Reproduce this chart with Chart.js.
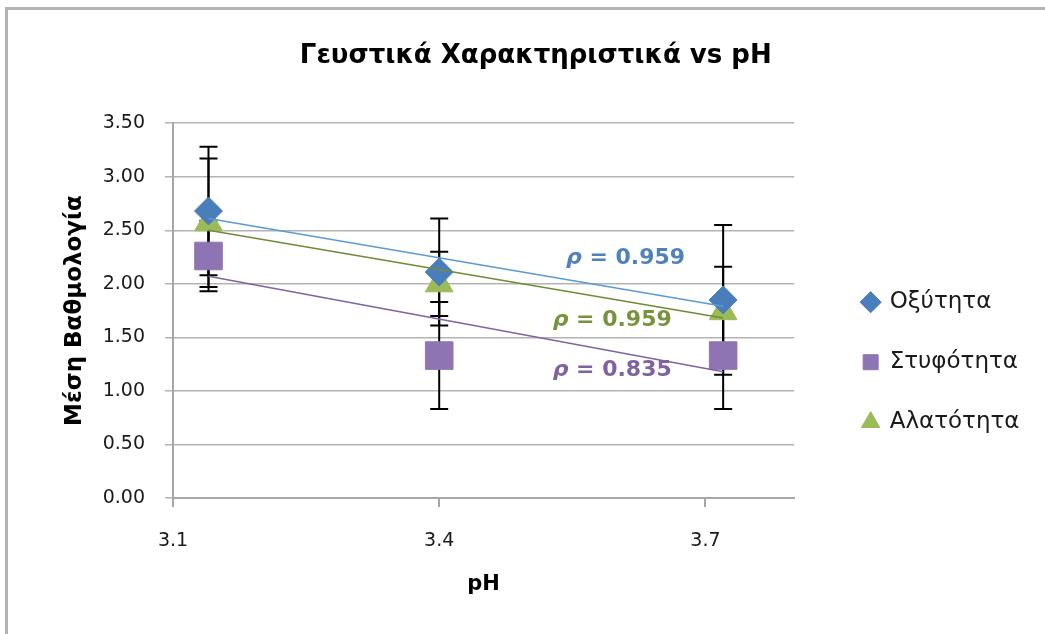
<!DOCTYPE html>
<html lang="el">
<head>
<meta charset="utf-8">
<title>Γευστικά Χαρακτηριστικά vs pH</title>
<script src="https://cdn.jsdelivr.net/npm/chart.js@4.4.1/dist/chart.umd.min.js"></script>
<style>
  html, body { margin: 0; padding: 0; background: #fff; overflow: hidden; }
  #frame { position: absolute; left: 5px; top: 7px; width: 1100px; height: 700px; border: 3px solid #b3b3b3; }
  #chart { position: absolute; left: 0; top: 0; }
</style>
</head>
<body>
<div id="frame"></div>
<canvas id="chart" width="1045" height="634"></canvas>
<script>
// pH of the three samples
const phValues = [3.14, 3.40, 3.72];
const seriesNames = ['Οξύτητα', 'Στυφότητα', 'Αλατότητα'];

// mean scores
const oxytita = [2.68, 2.11, 1.85];
const styfotita = [2.26, 1.33, 1.33];
const alatotita = [2.57, 2.00, 1.74];

// error bar half-widths
const oxytitaErr = [0.60, 0.50, 0.70];
const styfotitaErr = [0.33, 0.50, 0.50];
const alatotitaErr = [0.60, 0.30, 0.42];

// linear trend lines (start / end)
const trendX = [3.14, 3.72];
const oxytitaTrend = [2.61, 1.79];
const styfotitaTrend = [2.07, 1.18];
const alatotitaTrend = [2.50, 1.68];

// correlation labels
const rhoValues = [0.959, 0.835, 0.959];

const xTicks = [3.1, 3.4, 3.7];

const FONT = "'DejaVu Sans', sans-serif";
Chart.defaults.font.family = FONT;
Chart.defaults.color = '#1a1a1a';

const toPoints = (xs, ys) => xs.map((x, i) => ({ x: x, y: ys[i] }));

const errorBars = {
    id: 'errorBars',
    beforeDatasetsDraw(chart) {
        const xs = chart.scales.x, ys = chart.scales.y, ctx = chart.ctx;
        const sets = [[oxytita, oxytitaErr], [styfotita, styfotitaErr], [alatotita, alatotitaErr]];
        ctx.save();
        ctx.strokeStyle = '#000';
        ctx.lineWidth = 2;
        sets.forEach(([vals, errs]) => {
            vals.forEach((v, j) => {
                const px = xs.getPixelForValue(phValues[j]);
                const top = ys.getPixelForValue(v + errs[j]);
                const bot = ys.getPixelForValue(v - errs[j]);
                ctx.beginPath();
                ctx.moveTo(px, top); ctx.lineTo(px, bot);
                ctx.moveTo(px - 9, top); ctx.lineTo(px + 9, top);
                ctx.moveTo(px - 9, bot); ctx.lineTo(px + 9, bot);
                ctx.stroke();
            });
        });
        ctx.restore();
    }
};

// rho labels next to the trend lines
const rhoLabels = {
    id: 'rhoLabels',
    afterDatasetsDraw(chart) {
        const xs = chart.scales.x, ys = chart.scales.y, ctx = chart.ctx;
        const spots = [
            { x: 3.61, y: 2.24, color: '#4f81bd', v: rhoValues[0] },
            { x: 3.595, y: 1.19, color: '#7e62a1', v: rhoValues[1] },
            { x: 3.595, y: 1.655, color: '#77933c', v: rhoValues[2] }
        ];
        ctx.save();
        ctx.textBaseline = 'middle';
        ctx.textAlign = 'left';
        spots.forEach(s => {
            const rest = ' = ' + s.v.toFixed(3);
            ctx.font = 'italic bold 22px ' + FONT;
            const w1 = ctx.measureText('ρ').width;
            ctx.font = 'bold 22px ' + FONT;
            const w2 = ctx.measureText(rest).width;
            const cx = xs.getPixelForValue(s.x), cy = ys.getPixelForValue(s.y);
            const x0 = cx - (w1 + w2) / 2;
            ctx.fillStyle = s.color;
            ctx.font = 'italic bold 22px ' + FONT;
            ctx.fillText('ρ', x0, cy);
            ctx.font = 'bold 22px ' + FONT;
            ctx.fillText(rest, x0 + w1, cy);
        });
        ctx.restore();
    }
};

const blue = '#4a7ebb', purple = '#8f74b3', green = '#9bbb59';

new Chart(document.getElementById('chart').getContext('2d'), {
    type: 'scatter',
    data: {
        datasets: [
            { label: seriesNames[0], data: toPoints(phValues, oxytita), pointStyle: 'rectRot', pointRadius: 14,
              backgroundColor: blue, borderColor: blue, borderWidth: 1, order: 1 },
            { label: seriesNames[1], data: toPoints(phValues, styfotita), pointStyle: 'rect', pointRadius: 19.5,
              backgroundColor: purple, borderColor: purple, borderWidth: 1, order: 1 },
            { label: seriesNames[2], data: toPoints(phValues, alatotita), pointStyle: 'triangle', pointRadius: 16,
              backgroundColor: green, borderColor: green, borderWidth: 1, order: 1 },
            { label: 'trend1', data: toPoints(trendX, oxytitaTrend), showLine: true, pointRadius: 0,
              borderColor: '#5b9bd5', borderWidth: 1.5, order: 0 },
            { label: 'trend2', data: toPoints(trendX, styfotitaTrend), showLine: true, pointRadius: 0,
              borderColor: '#8064a2', borderWidth: 1.5, order: 0 },
            { label: 'trend3', data: toPoints(trendX, alatotitaTrend), showLine: true, pointRadius: 0,
              borderColor: '#6f8c34', borderWidth: 1.5, order: 0 }
        ]
    },
    options: {
        responsive: false,
        animation: false,
        events: [],
        devicePixelRatio: 1,
        layout: { padding: { left: 42, top: 0, bottom: 0, right: 15.5 } },
        plugins: {
            tooltip: { enabled: false },
            title: {
                display: true,
                text: 'Γευστικά Χαρακτηριστικά vs pH',
                color: '#000',
                font: { size: 26, weight: 'bold' },
                padding: { top: 41, bottom: 51 }
            },
            legend: {
                position: 'right',
                align: 'start',
                fullSize: false,
                title: { display: true, text: ' ', font: { size: 10 }, padding: { top: 118.5, bottom: 0 } },
                labels: {
                    usePointStyle: true,
                    boxWidth: 15,
                    boxHeight: 15,
                    padding: 37,
                    color: '#1a1a1a',
                    font: { size: 23 },
                    filter: item => item.datasetIndex < 3
                }
            }
        },
        scales: {
            x: {
                type: 'linear',
                min: 3.1,
                max: 3.8,
                afterBuildTicks: s => { s.ticks = xTicks.map(v => ({ value: v })); },
                afterFit: s => { s.height = 136; },
                ticks: { font: { size: 19 }, color: '#1a1a1a', padding: 23, callback: v => v.toFixed(1) },
                grid: { drawOnChartArea: false, drawTicks: true, tickLength: 9, color: '#a6a6a6', lineWidth: 2 },
                border: { color: '#a6a6a6', width: 2 },
                title: { display: true, text: 'pH', color: '#000', font: { size: 21, weight: 'bold' }, padding: { top: 0, bottom: 37 } }
            },
            y: {
                min: 0,
                max: 3.5,
                afterFit: s => { s.width = 131; },
                ticks: { stepSize: 0.5, font: { size: 19 }, color: '#1a1a1a', padding: 20, callback: v => v.toFixed(2) },
                grid: { color: '#b3b3b3', lineWidth: 1.5, tickLength: 8 },
                border: { color: '#a6a6a6', width: 2 },
                title: { display: true, text: 'Μέση Βαθμολογία', color: '#000', font: { size: 23, weight: 'bold' }, padding: { top: 19, bottom: 0 } }
            },
            // hidden axis: only keeps a gap between the plot and the legend
            gap: {
                type: 'linear',
                position: 'right',
                display: false,
                afterFit: s => { s.width = 32; }
            }
        }
    },
    plugins: [errorBars, rhoLabels]
});
</script>
</body>
</html>
